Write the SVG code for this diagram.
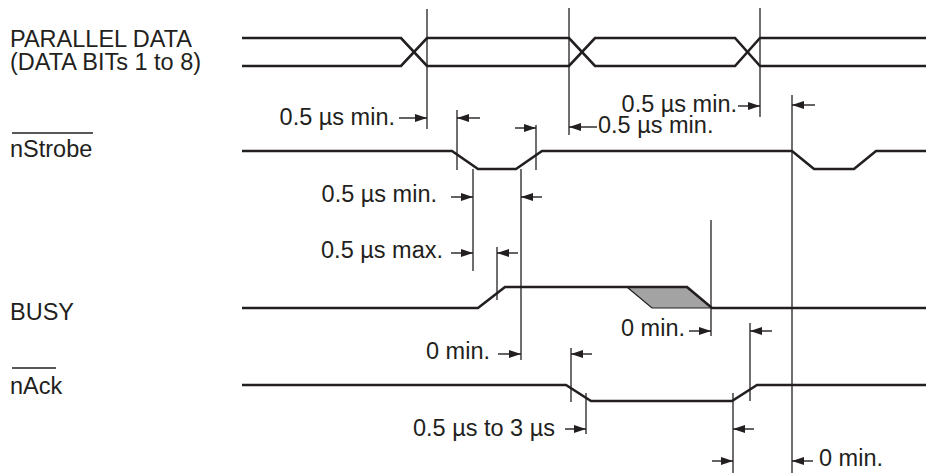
<svg xmlns="http://www.w3.org/2000/svg" width="926" height="476" viewBox="0 0 926 476">
<style>
  .wave { fill: none; stroke: #231f20; stroke-width: 2.6; stroke-linejoin: miter; }
  .tick { stroke: #231f20; stroke-width: 1.3; fill: none; }
  .arr { stroke: #231f20; stroke-width: 1.4; fill: none; marker-end: url(#ah); }
  .lbl { font-family: "Liberation Sans", Arial, sans-serif; font-size: 23.5px; fill: #231f20; }
  .end { text-anchor: end; }
  .ovl { stroke: #231f20; stroke-width: 1.4; }
</style>
<defs>
  <marker id="ah" markerUnits="userSpaceOnUse" markerWidth="12" markerHeight="8" refX="12" refY="4" orient="auto">
    <path d="M0,0 L12,4 L0,8 Z" fill="#231f20"/>
  </marker>
</defs>
<rect width="926" height="476" fill="#ffffff"/>

<g id="label-parallel-data">
  <text class="lbl" x="10" y="47">PARALLEL DATA</text>
  <text class="lbl" x="10" y="70">(DATA BITs 1 to 8)</text>
</g>
<g id="label-nstrobe">
  <line class="ovl" x1="12" y1="133" x2="93" y2="133"/>
  <text class="lbl" x="10" y="157">nStrobe</text>
</g>
<g id="label-busy">
  <text class="lbl" x="10" y="320">BUSY</text>
</g>
<g id="label-nack">
  <line class="ovl" x1="12" y1="368" x2="56" y2="368"/>
  <text class="lbl" x="10" y="394">nAck</text>
</g>

<g id="wave-parallel-data">
  <path class="wave" d="M242,38 H401 L427,66 H569 L595,38 H735 L760,66 H926"/>
  <path class="wave" d="M242,66 H401 L427,38 H569 L595,66 H735 L760,38 H926"/>
</g>
<g id="wave-nstrobe">
  <path class="wave" d="M242,151 H452 L478,169 H516 L542,151 H792 L814,169 H854 L876,151 H926"/>
</g>
<g id="wave-busy">
  <polygon points="627,287 687,287 712,308 652,308" fill="#a3a3a3" stroke="#231f20" stroke-width="1.2"/>
  <path class="wave" d="M242,308 H478 L505,287 H687 L712,308 H926"/>
</g>
<g id="wave-nack">
  <path class="wave" d="M242,385 H566 L591,401 H732 L757,385 H926"/>
</g>

<g id="connectors">
  <line class="tick" x1="427" y1="9" x2="427" y2="129"/>
  <line class="tick" x1="569" y1="8" x2="569" y2="135"/>
  <line class="tick" x1="760" y1="8" x2="760" y2="117"/>
  <line class="tick" x1="792" y1="95" x2="792" y2="473"/>
  <line class="tick" x1="457" y1="110" x2="457" y2="170"/>
  <line class="tick" x1="536" y1="125" x2="536" y2="170"/>
  <line class="tick" x1="473" y1="169" x2="473" y2="271"/>
  <line class="tick" x1="521" y1="169" x2="521" y2="360"/>
  <line class="tick" x1="497" y1="247" x2="497" y2="300"/>
  <line class="tick" x1="711" y1="220" x2="711" y2="336"/>
  <line class="tick" x1="750" y1="323" x2="750" y2="401"/>
  <line class="tick" x1="571" y1="348" x2="571" y2="402"/>
  <line class="tick" x1="586" y1="393" x2="586" y2="434"/>
  <line class="tick" x1="733" y1="393" x2="733" y2="473"/>

  <line class="arr" x1="399" y1="118" x2="427" y2="118"/>
  <line class="arr" x1="480" y1="118" x2="457" y2="118"/>
  <line class="arr" x1="515" y1="128" x2="536" y2="128"/>
  <line class="arr" x1="597" y1="127" x2="569" y2="127"/>
  <line class="arr" x1="738" y1="106" x2="760" y2="106"/>
  <line class="arr" x1="815" y1="105" x2="792" y2="105"/>
  <line class="arr" x1="451" y1="197" x2="473" y2="197"/>
  <line class="arr" x1="542" y1="197" x2="521" y2="197"/>
  <line class="arr" x1="451" y1="253" x2="473" y2="253"/>
  <line class="arr" x1="518" y1="253" x2="497" y2="253"/>
  <line class="arr" x1="689" y1="331" x2="711" y2="331"/>
  <line class="arr" x1="772" y1="331" x2="750" y2="331"/>
  <line class="arr" x1="498" y1="354" x2="521" y2="354"/>
  <line class="arr" x1="592" y1="354" x2="571" y2="354"/>
  <line class="arr" x1="565" y1="429" x2="586" y2="429"/>
  <line class="arr" x1="754" y1="429" x2="733" y2="429"/>
  <line class="arr" x1="712" y1="461" x2="733" y2="461"/>
  <line class="arr" x1="813" y1="461" x2="792" y2="461"/>
</g>

<g id="timing-labels">
  <text class="lbl end" x="395" y="125">0.5 µs min.</text>
  <text class="lbl end" x="737" y="112">0.5 µs min.</text>
  <text class="lbl" x="598" y="133">0.5 µs min.</text>
  <text class="lbl end" x="437" y="202">0.5 µs min.</text>
  <text class="lbl end" x="443" y="258">0.5 µs max.</text>
  <text class="lbl end" x="685" y="336">0 min.</text>
  <text class="lbl end" x="490" y="359">0 min.</text>
  <text class="lbl end" x="555" y="436">0.5 µs to 3 µs</text>
  <text class="lbl" x="819" y="466">0 min.</text>
</g>
</svg>
